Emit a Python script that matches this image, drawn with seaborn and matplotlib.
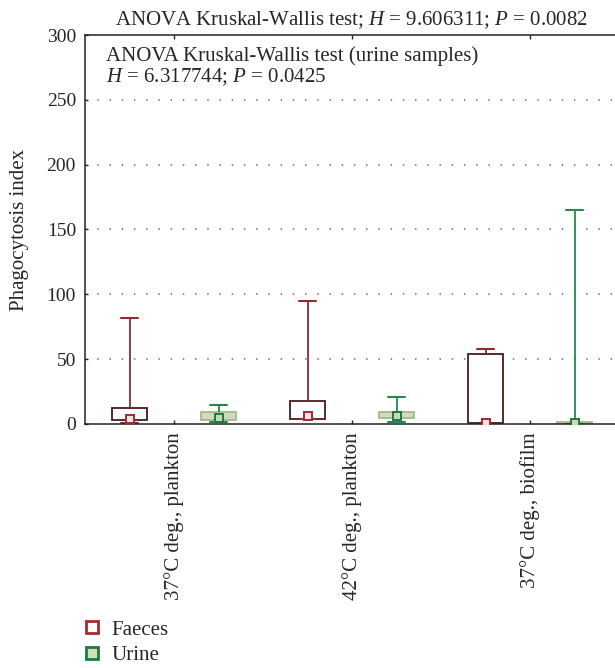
import numpy as np
import pandas as pd
import matplotlib
matplotlib.use("Agg")
import matplotlib.pyplot as plt
from matplotlib.lines import Line2D
import seaborn as sns

# ---- data (five-number summaries) ----
categories = ["37°C deg., plankton", "42°C deg., plankton", "37°C deg., biofilm"]
samples = ["Faeces", "Urine"]

faeces_min = [0.8, 3.6, 0.0]
faeces_q1 = [2.9, 4.2, 0.5]
faeces_med = [3.9, 6.0, 1.0]
faeces_q3 = [12.4, 17.8, 53.9]
faeces_max = [81.9, 95.0, 57.7]

urine_min = [1.8, 1.8, 0.0]
urine_q1 = [2.9, 4.5, 0.3]
urine_med = [4.4, 6.0, 1.0]
urine_q3 = [9.0, 9.6, 1.5]
urine_max = [15.0, 21.2, 165.4]

title_text = r"ANOVA Kruskal-Wallis test; $H$ = 9.606311; $P$ = 0.0082"
inner_text = "ANOVA Kruskal-Wallis test (urine samples)\n$H$ = 6.317744; $P$ = 0.0425"
y_label = "Phagocytosis index"
y_ticks = [0, 50, 100, 150, 200, 250, 300]

# ---- style ----
sns.set_style("ticks")
plt.rcParams["font.family"] = ["Liberation Serif", "DejaVu Serif"]
plt.rcParams["mathtext.fontset"] = "custom"
plt.rcParams["mathtext.rm"] = "Liberation Serif"
plt.rcParams["mathtext.it"] = "Liberation Serif:italic"
plt.rcParams["font.size"] = 15

col = {
    "Faeces": dict(fill="white", edge="#4a1a1e", whisk="#8e2a30", med_e="#a8282e", med_f="#f4e4e4"),
    "Urine": dict(fill="#d3dfb6", edge="#a6b78a", whisk="#238a4e", med_e="#1d7a44", med_f="#c9dcb0"),
}


def long_frame(name, mins, q1, med, q3, maxs):
    rows = []
    for i, c in enumerate(categories):
        for v in (mins[i], q1[i], med[i], q3[i], maxs[i]):
            rows.append({"condition": c, "sample": name, "value": v})
    return pd.DataFrame(rows)


df_f = long_frame("Faeces", faeces_min, faeces_q1, faeces_med, faeces_q3, faeces_max)
df_u = long_frame("Urine", urine_min, urine_q1, urine_med, urine_q3, urine_max)

W, H = 615, 668
fig = plt.figure(figsize=(W / 100, H / 100), dpi=100)
ax_l, ax_r, ax_t, ax_b = 85, 619, 35, 424
ax = fig.add_axes([ax_l / W, 1 - ax_b / H, (ax_r - ax_l) / W, (ax_b - ax_t) / H])

# grid lines
for yv in y_ticks[1:-1]:
    ax.axhline(yv, color="#6e6e6e", lw=1.1, ls=(0, (1, 7.0)), zorder=0)

for name, df in (("Faeces", df_f), ("Urine", df_u)):
    c = col[name]
    sns.boxplot(
        data=df, x="condition", y="value", hue="sample",
        order=categories, hue_order=samples,
        palette={"Faeces": col["Faeces"]["fill"], "Urine": col["Urine"]["fill"]},
        dodge=True, width=1.0, gap=0.6, whis=(0, 100), showfliers=False,
        linecolor=c["edge"], linewidth=1.3,
        whiskerprops={"color": c["whisk"], "linewidth": 1.3},
        capprops={"color": c["whisk"], "linewidth": 1.5},
        medianprops={"linewidth": 0},
        legend=False, ax=ax,
    )

# median markers
offsets = {"Faeces": -0.25, "Urine": 0.25}
meds = {"Faeces": faeces_med, "Urine": urine_med}
for name in samples:
    xs = np.arange(len(categories)) + offsets[name]
    ax.plot(xs, meds[name], ls="none", marker="s", ms=5.5,
            mfc=col[name]["med_f"], mec=col[name]["med_e"], mew=1.4, zorder=5)

ax.set_xlim(-0.5, 2.5)
ax.set_ylim(0, 300)
ax.set_yticks(y_ticks)
ax.set_xticks(range(len(categories)))
ax.set_xticklabels(categories, rotation=90, va="top", ha="center")
ax.set_xlabel("")
ax.set_ylabel(y_label, labelpad=13, fontsize=15)
ax.tick_params(axis="x", direction="in", length=3, width=1, pad=6, labelsize=15,
               top=True)
ax.tick_params(axis="y", direction="in", length=2, width=1, pad=6.5, labelsize=14)

for s in ("left", "bottom", "top"):
    ax.spines[s].set_visible(True)
    ax.spines[s].set_linewidth(1.1)
    ax.spines[s].set_color("#222222")
ax.spines["right"].set_visible(False)

ax.set_title(title_text, fontsize=15, pad=7)
ax.text((106 - ax_l) / (ax_r - ax_l), 0.972, inner_text, transform=ax.transAxes,
        ha="left", va="top", fontsize=15, linespacing=1.05)

handles = [
    Line2D([], [], ls="none", marker="s", ms=8, mfc="white", mec=col["Faeces"]["med_e"], mew=2.0),
    Line2D([], [], ls="none", marker="s", ms=8, mfc=col["Urine"]["fill"], mec=col["Urine"]["med_e"], mew=2.0),
]
fig.legend(handles, samples, loc="upper left", bbox_to_anchor=(84 / W, 1 - 620 / H),
           frameon=False, fontsize=15, handlelength=0.8, handletextpad=0.5,
           labelspacing=0.3, borderpad=0, borderaxespad=0)

fig.savefig("out.png", dpi=100)
